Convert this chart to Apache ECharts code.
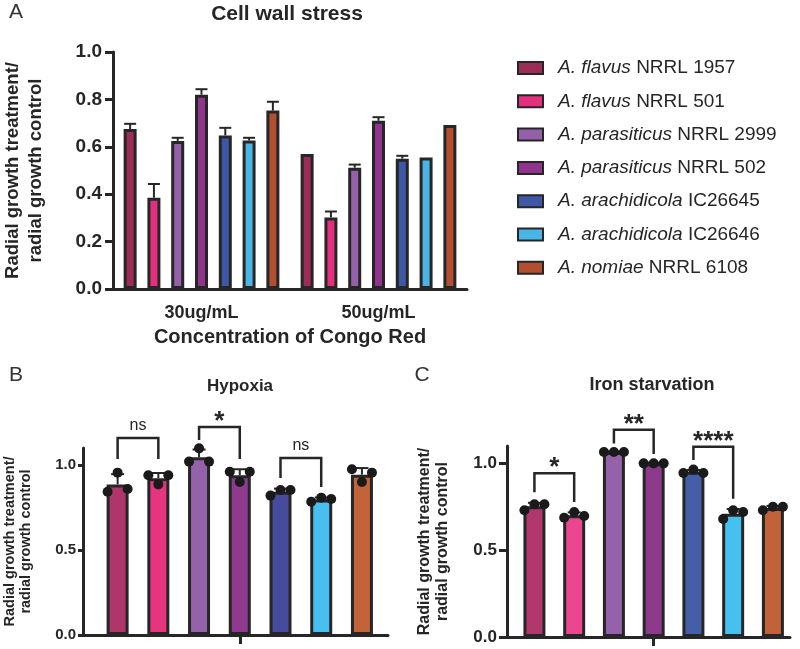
<!DOCTYPE html>
<html><head><meta charset="utf-8">
<script src="https://cdn.jsdelivr.net/npm/echarts@6/dist/echarts.min.js"></script>
<style>html,body{margin:0;padding:0;background:#fff}#c{width:800px;height:649px}</style>
</head><body><div id="c"></div>
<script>
// ---------- data ----------
const species = ['A. flavus','A. flavus','A. parasiticus','A. parasiticus','A. arachidicola','A. arachidicola','A. nomiae'];
const strainIds = ['NRRL 1957','NRRL 501','NRRL 2999','NRRL 502','IC26645','IC26646','NRRL 6108'];
const concentrations = ['30ug/mL','50ug/mL'];
const congo30 = [0.675,0.385,0.625,0.820,0.648,0.627,0.753];
const congo50 = [0.570,0.302,0.512,0.710,0.550,0.555,0.692];
const congo30Err = [0.022,0.058,0.013,0.023,0.032,0.011,0.037];
const congo50Err = [0,0.025,0.013,0.015,0.012,0,0];
const yTicksA = [0,0.2,0.4,0.6,0.8,1.0];

const hypoxiaMeans = [0.886,0.922,1.046,0.940,0.842,0.797,0.943];
const hypoxiaErr = [0.060,0.031,0.045,0.035,0.019,0.012,0.039];
const hypoxiaReps = [[0.843,0.955,0.859],[0.940,0.886,0.940],[1.020,1.098,1.020],[0.960,0.900,0.960],[0.820,0.853,0.853],[0.784,0.808,0.800],[0.975,0.900,0.955]];
const hypoxiaBrackets = [[0,1,1.159,1.035,1.035],[2,3,1.224,1.147,1.035],[4,5,1.041,0.923,0.871]];
const hypoxiaSig = ['ns','*','ns'];

const ironMeans = [0.753,0.701,1.065,1.000,0.951,0.710,0.743];
const ironErr = [0.020,0.017,0.004,0.004,0.011,0.027,0.012];
const ironReps = [[0.730,0.765,0.765],[0.687,0.720,0.697],[1.065,1.065,1.065],[1.000,1.000,1.000],[0.945,0.964,0.945],[0.680,0.730,0.720],[0.730,0.750,0.750]];
const ironBrackets = [[0,1,0.943,0.834,0.777],[2,3,1.193,1.115,1.054],[4,5,1.096,1.019,0.796]];
const ironSig = ['*','**','****'];
const yTicksBC = [0,0.5,1.0];

// ---------- style ----------
const FONT = 'Liberation Sans, Arial, Helvetica, sans-serif';
const INK = '#262626';
const colorsA = ['#9c2c58','#e42f7e','#9460aa','#91348e','#3f58a6','#4ab4e6','#b24f30'];
const colorsB = ['#b0366a','#e6357f','#9462a8','#8e3a8e','#474b9e','#47bff0','#c2633a'];
const colorsC = ['#b1386a','#eb4690','#9561a8','#8d3a8d','#455ea8','#45c1f0','#c1623a'];
const barWA = 13, gapA = 0.83, pitchA = barWA * (1 + gapA);
const names = species.map((s, i) => s + ' ' + strainIds[i]);

const chart = echarts.init(document.getElementById('c'));

function errRender(offsetFn, cap) {
  return function (params, api) {
    const x = api.value(0), m = api.value(2), e = api.value(3);
    const b = api.coord([x, m]), t = api.coord([x, m + e]);
    const px = b[0] + offsetFn(api.value(1));
    return { type: 'group', children: [
      { type: 'line', shape: { x1: px, y1: b[1], x2: px, y2: t[1] }, style: { stroke: INK, lineWidth: 2 } },
      { type: 'line', shape: { x1: px - cap, y1: t[1], x2: px + cap, y2: t[1] }, style: { stroke: INK, lineWidth: 2 } }
    ] };
  };
}
function bracketRender(labels) {
  return function (params, api) {
    const x1 = api.value(0), x2 = api.value(1), top = api.value(2), l = api.value(3), r = api.value(4);
    const pl = api.coord([x1, l]), pt1 = api.coord([x1, top]), pt2 = api.coord([x2, top]), pr = api.coord([x2, r]);
    const txt = labels[params.dataIndex];
    const star = txt !== 'ns';
    return { type: 'group', children: [
      { type: 'polyline', shape: { points: [pl, pt1, pt2, pr] }, style: { stroke: INK, lineWidth: 2.5, fill: null } },
      { type: 'text', style: { text: txt, x: (pt1[0] + pt2[0]) / 2, y: pt1[1] - (star ? 5 : 12),
        align: 'center', verticalAlign: 'middle', fill: INK,
        font: (star ? 'bold 26px ' : '16px ') + FONT } }
    ] };
  };
}

const series = [];
// Panel A bars
for (let s = 0; s < 7; s++) {
  series.push({ type: 'bar', name: names[s], xAxisIndex: 0, yAxisIndex: 0,
    data: [congo30[s], congo50[s]], barWidth: barWA, barGap: (gapA * 100) + '%', z: 2,
    itemStyle: { color: colorsA[s], borderColor: INK, borderWidth: 3 } });
}
const errA = [];
for (let s = 0; s < 7; s++) {
  if (congo30Err[s] > 0) errA.push([0, s, congo30[s], congo30Err[s]]);
  if (congo50Err[s] > 0) errA.push([1, s, congo50[s], congo50Err[s]]);
}
series.push({ type: 'custom', xAxisIndex: 0, yAxisIndex: 0, data: errA, z: 3,
  encode: { x: 0, y: 2 }, renderItem: errRender(s => (s - 3) * pitchA, 6) });

// Panels B & C
function panel(idx, means, errs, reps, brackets, sig, colors) {
  series.push({ type: 'bar', xAxisIndex: idx, yAxisIndex: idx, barWidth: 22, z: 2,
    data: means.map((m, i) => ({ value: [i, m], itemStyle: { color: colors[i] } })),
    itemStyle: { borderColor: INK, borderWidth: 3 } });
  series.push({ type: 'custom', xAxisIndex: idx, yAxisIndex: idx, z: 3,
    data: means.map((m, i) => [i, 0, m, errs[i]]), encode: { x: 0, y: 2 },
    renderItem: errRender(() => 0, 6.5) });
  const dots = [];
  reps.forEach((r, i) => r.forEach((v, k) => dots.push({ value: [i, v], symbolOffset: [(k - 1) * 10, 0] })));
  series.push({ type: 'scatter', xAxisIndex: idx, yAxisIndex: idx, data: dots, symbolSize: 10, clip: false, z: 4,
    itemStyle: { color: '#1a1a1a', opacity: 1 } });
  series.push({ type: 'custom', xAxisIndex: idx, yAxisIndex: idx, z: 3, data: brackets,
    encode: { x: [0, 1], y: [2, 3, 4] }, renderItem: bracketRender(sig) });
}
panel(1, hypoxiaMeans, hypoxiaErr, hypoxiaReps, hypoxiaBrackets, hypoxiaSig, colorsB);
panel(2, ironMeans, ironErr, ironReps, ironBrackets, ironSig, colorsC);

const axisLine = { onZero: false, lineStyle: { color: INK, width: 3 } };
function yName(size, lh) {
  return { fontFamily: FONT, fontWeight: 'bold', fontSize: size, lineHeight: lh, color: INK };
}
const yNameText = 'Radial growth treatment/\nradial growth control';

const option = {
  animation: false,
  backgroundColor: '#fff',
  textStyle: { fontFamily: FONT },
  grid: [
    { left: 110, top: 52, width: 357, height: 237 },
    { left: 83, top: 448, width: 305, height: 187 },
    { left: 507, top: 446, width: 283, height: 191 }
  ],
  xAxis: [
    { gridIndex: 0, type: 'category', data: concentrations, axisLine,
      axisTick: { alignWithLabel: true, length: 9, lineStyle: { color: INK, width: 3 } },
      axisLabel: { fontSize: 18, fontWeight: 'bold', color: INK, margin: 15, fontFamily: FONT },
      name: 'Concentration of Congo Red', nameLocation: 'middle', nameGap: 38,
      nameTextStyle: { fontSize: 20, fontWeight: 'bold', color: INK, fontFamily: FONT } },
    { gridIndex: 1, type: 'value', min: -0.85, max: 6.64, axisLine, splitLine: { show: false },
      axisLabel: { show: false },
      axisTick: { show: true, customValues: [3], length: 9, lineStyle: { color: INK, width: 3 } } },
    { gridIndex: 2, type: 'value', min: -0.69, max: 6.43, axisLine, splitLine: { show: false },
      axisLabel: { show: false },
      axisTick: { show: true, customValues: [3], length: 9, lineStyle: { color: INK, width: 3 } } }
  ],
  yAxis: [
    { gridIndex: 0, type: 'value', min: 0, max: 1, interval: 0.2, axisLine: { show: true, onZero: false, lineStyle: { color: INK, width: 3 } },
      splitLine: { show: false }, axisTick: { show: true, length: 8, lineStyle: { color: INK, width: 3 } },
      axisLabel: { fontSize: 19, fontWeight: 'bold', color: INK, margin: 11, fontFamily: FONT, formatter: v => v.toFixed(1) },
      name: yNameText, nameLocation: 'middle', nameRotate: 90, nameGap: 66, nameTextStyle: yName(18.5, 23) },
    { gridIndex: 1, type: 'value', min: 0, max: 1.1, axisLine: { show: true, onZero: false, lineStyle: { color: INK, width: 3 } },
      splitLine: { show: false },
      axisTick: { show: true, customValues: yTicksBC, length: 5, lineStyle: { color: INK, width: 3 } },
      axisLabel: { customValues: yTicksBC, fontSize: 15, fontWeight: 'bold', color: INK, margin: 7, fontFamily: FONT, formatter: v => v.toFixed(1) },
      name: yNameText, nameLocation: 'middle', nameRotate: 90, nameGap: 49, nameTextStyle: yName(14.5, 16) },
    { gridIndex: 2, type: 'value', min: 0, max: 1.1, axisLine: { show: true, onZero: false, lineStyle: { color: INK, width: 3 } },
      splitLine: { show: false },
      axisTick: { show: true, customValues: yTicksBC, length: 8, lineStyle: { color: INK, width: 3 } },
      axisLabel: { customValues: yTicksBC, fontSize: 17, fontWeight: 'bold', color: INK, margin: 10, fontFamily: FONT, formatter: v => v.toFixed(1) },
      name: yNameText, nameLocation: 'middle', nameRotate: 90, nameGap: 56, nameTextStyle: yName(16, 17.5) }
  ],
  legend: {
    data: names, orient: 'vertical', left: 517, top: 58, padding: 0, itemWidth: 25, itemHeight: 12, itemGap: 13.3,
    icon: 'rect', selectedMode: false,
    formatter: n => { const i = names.indexOf(n); return '{i|' + species[i] + '} ' + strainIds[i]; },
    textStyle: { fontSize: 19, color: INK, fontFamily: FONT, lineHeight: 20, padding: [0, 0, 0, 10],
      rich: { i: { fontStyle: 'italic', fontSize: 19, color: INK, fontFamily: FONT, lineHeight: 20 } } }
  },
  graphic: [
    { type: 'text', x: 16, y: 12, style: { text: 'A', font: '21px ' + FONT, fill: '#333', align: 'center', verticalAlign: 'middle' } },
    { type: 'text', x: 16, y: 375, style: { text: 'B', font: '21px ' + FONT, fill: '#333', align: 'center', verticalAlign: 'middle' } },
    { type: 'text', x: 422, y: 375, style: { text: 'C', font: '21px ' + FONT, fill: '#333', align: 'center', verticalAlign: 'middle' } },
    { type: 'text', x: 287, y: 14, style: { text: 'Cell wall stress', font: 'bold 21px ' + FONT, fill: INK, align: 'center', verticalAlign: 'middle' } },
    { type: 'text', x: 240, y: 386, style: { text: 'Hypoxia', font: 'bold 17px ' + FONT, fill: INK, align: 'center', verticalAlign: 'middle' } },
    { type: 'text', x: 652, y: 385, style: { text: 'Iron starvation', font: 'bold 18px ' + FONT, fill: INK, align: 'center', verticalAlign: 'middle' } }
  ],
  series
};
chart.setOption(option);
</script></body></html>
